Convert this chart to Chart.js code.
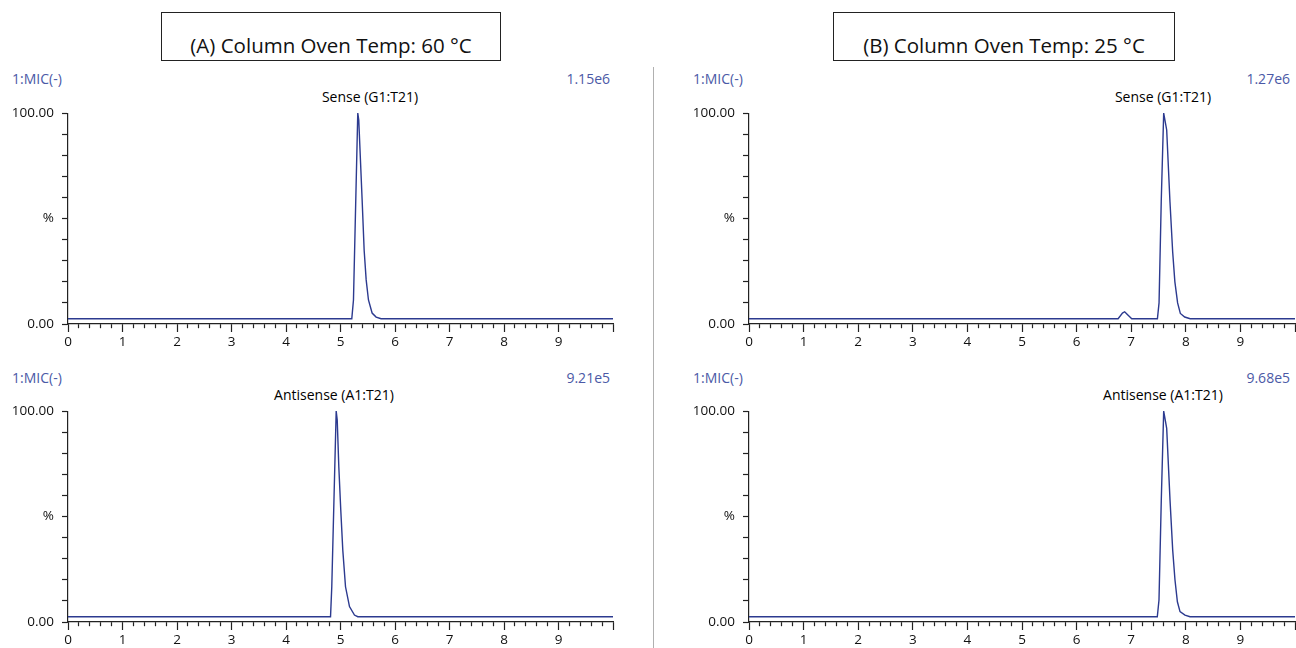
<!DOCTYPE html>
<html lang="en">

<head>
    <meta charset="UTF-8">
    <title>Column Oven Temp Chromatograms</title>
    <script src="https://cdn.jsdelivr.net/npm/chart.js"></script>
    <style>
        body {
            margin: 0;
            width: 1296px;
            height: 648px;
            overflow: hidden;
            position: relative;
            background: #fff;
            font-family: "Open Sans", sans-serif;
        }

        .box {
            position: absolute;
            top: 12px;
            height: 47px;
            border: 1.5px solid #222;
            font-size: 20.5px;
            color: #111;
            text-align: center;
            line-height: 64px;
        }

        .txt {
            position: absolute;
            font-size: 14px;
            line-height: 16px;
            white-space: nowrap;
        }

        .blue {
            color: #4b59a6;
        }

        .panel {
            position: absolute;
        }

        .divider {
            position: absolute;
            left: 653px;
            top: 67px;
            width: 1px;
            height: 581px;
            background: #b0b0b0;
        }
    </style>
</head>

<body>
    <div class="box" style="left:161px;width:338px;">(A) Column Oven Temp: 60 °C</div>
    <div class="box" style="left:833px;width:340px;">(B) Column Oven Temp: 25 °C</div>
    <div class="divider"></div>

    <!-- panel A -->
    <div class="txt blue" style="left:12px;top:71px;">1:MIC(-)</div>
    <div class="txt blue" style="right:686px;top:71px;">1.15e6</div>
    <div class="txt" style="left:370px;top:89px;transform:translateX(-50%);">Sense (G1:T21)</div>
    <div class="txt blue" style="left:12px;top:370px;">1:MIC(-)</div>
    <div class="txt blue" style="right:686px;top:370px;">9.21e5</div>
    <div class="txt" style="left:334px;top:387px;transform:translateX(-50%);">Antisense (A1:T21)</div>

    <!-- panel B -->
    <div class="txt blue" style="left:693px;top:71px;">1:MIC(-)</div>
    <div class="txt blue" style="right:6px;top:71px;">1.27e6</div>
    <div class="txt" style="left:1163px;top:89px;transform:translateX(-50%);">Sense (G1:T21)</div>
    <div class="txt blue" style="left:693px;top:370px;">1:MIC(-)</div>
    <div class="txt blue" style="right:6px;top:370px;">9.68e5</div>
    <div class="txt" style="left:1163px;top:387px;transform:translateX(-50%);">Antisense (A1:T21)</div>

    <div class="panel" style="left:0;top:97px;"><canvas id="senseA" width="620" height="251"></canvas></div>
    <div class="panel" style="left:0;top:395px;"><canvas id="antisenseA" width="620" height="251"></canvas></div>
    <div class="panel" style="left:681px;top:97px;"><canvas id="senseB" width="616" height="251"></canvas></div>
    <div class="panel" style="left:681px;top:395px;"><canvas id="antisenseB" width="616" height="251"></canvas></div>

    <script>
        // retention time (min) and relative intensity (%)
        const senseA_time = [0, 5.207, 5.238, 5.317, 5.335, 5.397, 5.434, 5.471, 5.513, 5.58, 5.654, 5.745, 10];
        const senseA_int = [2.5, 2.5, 11.4, 100, 96.7, 58.8, 35, 20.9, 11.4, 5.2, 3.3, 2.5, 2.5];

        const antisenseA_time = [0, 4.817, 4.84, 4.921, 4.94, 4.969, 5.005, 5.042, 5.092, 5.165, 5.256, 5.317, 10];
        const antisenseA_int = [2.5, 2.5, 16.7, 100, 95.7, 73.6, 53.1, 34.1, 16.7, 7.3, 3.3, 2.5, 2.5];

        const senseB_time = [0, 6.76, 6.84, 6.88, 6.93, 7.01, 7.48, 7.51, 7.55, 7.595, 7.65, 7.71, 7.76, 7.80, 7.85, 7.90, 7.98, 8.08, 10];
        const senseB_int = [2.5, 2.5, 5.2, 5.8, 4.5, 2.5, 2.5, 10, 58, 100, 92, 58, 34, 20, 10, 5, 3.3, 2.5, 2.5];

        const antisenseB_time = [0, 7.478, 7.509, 7.551, 7.595, 7.65, 7.711, 7.76, 7.802, 7.846, 7.894, 7.985, 8.077, 10];
        const antisenseB_int = [2.5, 2.5, 10.4, 57.8, 100, 91.8, 57.8, 34.1, 19.9, 9.6, 4.9, 3.3, 2.5, 2.5];

        // axis labels
        const yLabels = { 0: '0.00', 50: '%', 100: '100.00' };
        const xMax = 10;

        const traceColor = '#2c3a8f';
        const axisColor = '#222';

        function isWhole(v) {
            return Math.abs(v - Math.round(v)) < 1e-6;
        }

        function makeChart(id, times, values, padRight) {
            const pts = times.map((t, i) => ({ x: t, y: values[i] }));
            return new Chart(document.getElementById(id), {
                type: 'line',
                data: {
                    datasets: [{
                        data: pts,
                        borderColor: traceColor,
                        borderWidth: 1.4,
                        pointRadius: 0,
                        tension: 0
                    }]
                },
                options: {
                    responsive: false,
                    animation: false,
                    events: [],
                    layout: { padding: { top: 4, right: padRight, left: 0, bottom: 0 } },
                    plugins: { legend: { display: false }, tooltip: { enabled: false } },
                    scales: {
                        x: {
                            type: 'linear',
                            min: 0,
                            max: xMax,
                            border: { display: true, color: axisColor, width: 1.2 },
                            grid: {
                                drawOnChartArea: false,
                                tickLength: 8,
                                tickColor: axisColor,
                                tickWidth: 1.2,
                                tickBorderDash: ctx => (ctx.tick && isWhole(ctx.tick.value)) ? [] : [4, 20]
                            },
                            ticks: {
                                stepSize: 0.2,
                                autoSkip: false,
                                maxRotation: 0,
                                padding: 2,
                                color: '#111',
                                font: { family: 'Open Sans', size: 13.5 },
                                callback: v => (isWhole(v) && Math.round(v) < xMax) ? String(Math.round(v)) : ''
                            },
                            afterFit: s => { s.height = 24; }
                        },
                        y: {
                            min: 0,
                            max: 100,
                            border: { display: true, color: axisColor, width: 1.2 },
                            grid: {
                                drawOnChartArea: false,
                                tickLength: 6,
                                tickColor: axisColor,
                                tickWidth: 1.2
                            },
                            ticks: {
                                stepSize: 10,
                                padding: 8,
                                color: '#111',
                                font: { family: 'Open Sans', size: 13.5 },
                                callback: v => yLabels[v] !== undefined ? yLabels[v] : ''
                            },
                            afterFit: s => { s.width = 68; }
                        }
                    }
                }
            });
        }

        makeChart('senseA', senseA_time, senseA_int, 7);
        makeChart('antisenseA', antisenseA_time, antisenseA_int, 7);
        makeChart('senseB', senseB_time, senseB_int, 2);
        makeChart('antisenseB', antisenseB_time, antisenseB_int, 2);
    </script>
</body>

</html>
